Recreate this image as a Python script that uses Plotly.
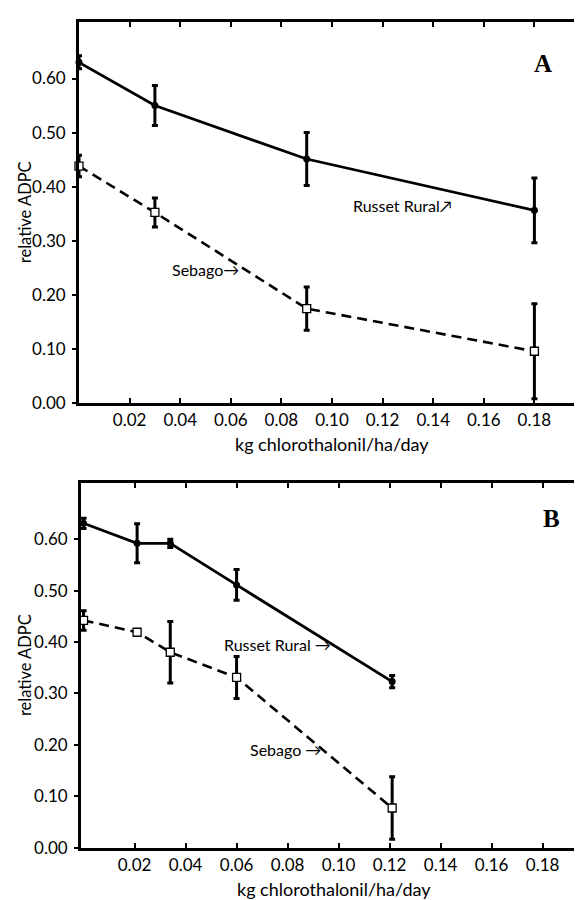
import plotly.graph_objects as go

# ---------------- data ----------------
dose_a = [0.0, 0.03, 0.09, 0.18]
russet_a = [0.63, 0.55, 0.451, 0.356]
russet_a_err = [0.012, 0.037, 0.049, 0.06]
sebago_a = [0.438, 0.352, 0.174, 0.095]
sebago_a_err = [0.02, 0.027, 0.04, 0.088]

dose_b = [0.0, 0.021, 0.034, 0.06, 0.121]
russet_b = [0.631, 0.592, 0.592, 0.511, 0.323]
russet_b_err = [0.01, 0.038, 0.008, 0.03, 0.012]
sebago_b = [0.442, 0.419, 0.38, 0.331, 0.077]
sebago_b_err = [0.019, 0.0, 0.06, 0.041, 0.061]

x_tickvals = [0.02, 0.04, 0.06, 0.08, 0.10, 0.12, 0.14, 0.16, 0.18]
x_ticktext = ["0.02", "0.04", "0.06", "0.08", "0.10", "0.12", "0.14", "0.16", "0.18"]
y_tickvals = [0.0, 0.1, 0.2, 0.3, 0.4, 0.5, 0.6]
y_ticktext = ["0.00", "0.10", "0.20", "0.30", "0.40", "0.50", "0.60"]

FONT = "Lato"
W, H = 582, 900

fig = go.Figure()


def add_series(x, y, err, xa, ya, kind):
    if kind == "russet":
        line = dict(color="black", width=2.8)
        marker = dict(symbol="circle", size=7, color="black")
    else:
        line = dict(color="black", width=2.6, dash="10px,6px")
        marker = dict(symbol="square", size=8, color="white",
                      line=dict(color="black", width=1.3))
    fig.add_trace(go.Scatter(
        x=x, y=y, mode="lines+markers", line=line, marker=marker,
        error_y=dict(type="data", array=err, visible=True,
                     color="black", thickness=3, width=3),
        xaxis=xa, yaxis=ya, showlegend=False, cliponaxis=False))


add_series(dose_a, russet_a, russet_a_err, "x", "y", "russet")
add_series(dose_a, sebago_a, sebago_a_err, "x", "y", "sebago")
add_series(dose_b, russet_b, russet_b_err, "x2", "y2", "russet")
add_series(dose_b, sebago_b, sebago_b_err, "x2", "y2", "sebago")

axis_font = dict(family=FONT, size=17, color="black")

dom_a_x = [71 / W, 577 / W]
dom_a_y = [(H - 399) / H, (H - 14) / H]
dom_b_x = [73 / W, 578 / W]
dom_b_y = [(H - 849) / H, (H - 480) / H]

xcommon = dict(showgrid=False, zeroline=False, showline=True, linecolor="black",
               linewidth=2.8, mirror="ticks", ticks="inside", ticklen=5,
               tickwidth=2, tickcolor="black", tickvals=x_tickvals,
               ticktext=x_ticktext, tickfont=axis_font)
ycommon = dict(showgrid=False, zeroline=False, showline=True, linecolor="black",
               linewidth=2.8, mirror=True, ticks="outside", ticklen=4,
               tickwidth=2, tickcolor="black", tickvals=y_tickvals,
               ticktext=y_ticktext, tickfont=axis_font, ticklabelstandoff=3)
yright = dict(showgrid=False, zeroline=False, showline=False, side="right",
              ticks="inside", ticklen=5, tickwidth=2, tickcolor="black",
              tickvals=y_tickvals, showticklabels=False)

fig.update_layout(
    width=W, height=H, margin=dict(l=0, r=0, t=0, b=0),
    paper_bgcolor="white", plot_bgcolor="white",
    xaxis=dict(domain=dom_a_x, range=[0, 0.2], anchor="y", **xcommon),
    yaxis=dict(domain=dom_a_y, range=[0, 0.705], anchor="x", **ycommon),
    xaxis2=dict(domain=dom_b_x, range=[-0.001, 0.197], anchor="y2", **xcommon),
    yaxis2=dict(domain=dom_b_y, range=[0, 0.71], anchor="x2", **ycommon),
    yaxis3=dict(domain=dom_a_y, range=[0, 0.705], anchor="x", overlaying="y", **yright),
    yaxis4=dict(domain=dom_b_y, range=[0, 0.71], anchor="x2", overlaying="y2", **yright),
)

lab_font = dict(family=FONT, size=16, color="black")
annotations = [
    dict(text="Russet Rural↗", x=0.128, y=0.365, xref="x", yref="y"),
    dict(text="Sebago→", x=0.050, y=0.246, xref="x", yref="y"),
    dict(text="Russet Rural →", x=0.076, y=0.396, xref="x2", yref="y2"),
    dict(text="Sebago →", x=0.079, y=0.19, xref="x2", yref="y2"),
]
for a in annotations:
    fig.add_annotation(showarrow=False, font=lab_font, xanchor="center",
                       yanchor="middle", **a)

for xr, yr, letter, lx, ly in [("x", "y", "A", 0.917, 0.891),
                                ("x2", "y2", "B", 0.931, 0.902)]:
    fig.add_annotation(text="<b>" + letter + "</b>", x=lx, y=ly,
                       xref=xr + " domain", yref=yr + " domain", showarrow=False,
                       xanchor="center", yanchor="middle",
                       font=dict(family="Liberation Serif", size=25, color="black"))
    fig.add_annotation(text="kg chlorothalonil/ha/day", x=0.5, y=0,
                       xref=xr + " domain", yref=yr + " domain", showarrow=False,
                       xanchor="center", yanchor="middle", yshift=-41,
                       font=dict(family=FONT, size=18, color="black"))
    fig.add_annotation(text="relative ADPC", x=17 / W, y=0.5, xref="paper",
                       yref=yr + " domain", showarrow=False, textangle=-90,
                       xanchor="center", yanchor="middle",
                       font=dict(family=FONT, size=16.5, color="black"))

fig.write_html("out.html")
